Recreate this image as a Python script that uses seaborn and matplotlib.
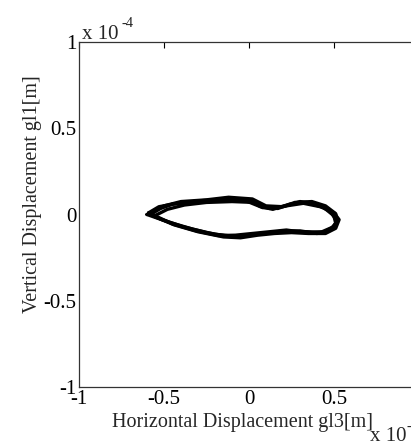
import matplotlib
matplotlib.use("Agg")
import matplotlib.pyplot as plt
import seaborn as sns
import pandas as pd

# Orbit data (units of 1e-4 m), several overlapping cycles
cyc1_x = [-0.58, -0.52, -0.45, -0.31, -0.15, 0.0, 0.065, 0.14, 0.24, 0.34, 0.44, 0.49, 0.52,
          0.49, 0.44, 0.34, 0.24, 0.14, 0.05, -0.05, -0.11, -0.25, -0.39, -0.51, -0.58]
cyc1_y = [0.0, 0.035, 0.06, 0.075, 0.087, 0.087, 0.047, 0.03, 0.06, 0.07, 0.04, 0.0, -0.04,
          -0.075, -0.105, -0.10, -0.10, -0.105, -0.115, -0.128, -0.128, -0.105, -0.07, -0.03, 0.0]

cyc2_x = [-0.60, -0.50, -0.40, -0.25, -0.12, 0.02, 0.10, 0.20, 0.30, 0.40, 0.47, 0.50, 0.51,
          0.48, 0.40, 0.30, 0.20, 0.10, 0.0, -0.10, -0.20, -0.33, -0.47, -0.60]
cyc2_y = [0.0, 0.05, 0.075, 0.085, 0.10, 0.09, 0.05, 0.045, 0.075, 0.06, 0.03, -0.01, -0.05,
          -0.09, -0.11, -0.095, -0.095, -0.11, -0.12, -0.125, -0.115, -0.085, -0.045, 0.0]

cyc3_x = [-0.56, -0.48, -0.38, -0.25, -0.10, 0.03, 0.12, 0.22, 0.32, 0.42, 0.50, 0.53,
          0.51, 0.45, 0.35, 0.25, 0.15, 0.05, -0.05, -0.15, -0.30, -0.44, -0.56]
cyc3_y = [-0.01, 0.03, 0.055, 0.07, 0.075, 0.07, 0.035, 0.05, 0.065, 0.045, 0.01, -0.03,
          -0.08, -0.11, -0.11, -0.105, -0.11, -0.12, -0.135, -0.13, -0.10, -0.06, -0.01]

cyc4_x = [-0.59, -0.53, -0.42, -0.28, -0.14, -0.02, 0.08, 0.17, 0.27, 0.37, 0.45, 0.51, 0.52,
          0.50, 0.43, 0.33, 0.22, 0.12, 0.02, -0.08, -0.18, -0.31, -0.45, -0.59]
cyc4_y = [0.01, 0.045, 0.065, 0.08, 0.09, 0.08, 0.04, 0.035, 0.07, 0.075, 0.05, 0.005, -0.035,
          -0.07, -0.1, -0.105, -0.09, -0.1, -0.11, -0.12, -0.122, -0.095, -0.055, 0.01]

tick_vals = [-1, -0.5, 0, 0.5, 1]
ytick_labels = ["-1", "-0.5", "0", "0.5", "1"]
xtick_labels = ["-1", "-0.5", "0", "0.5", ""]

sns.set_style("white")
plt.rcParams["font.family"] = ["Liberation Serif", "DejaVu Serif"]
plt.rcParams["axes.unicode_minus"] = False

fig = plt.figure(figsize=(4.11, 4.46), dpi=100)
ax = fig.add_axes([79 / 411, (446 - 387) / 446, 340 / 411, 345 / 446])

for cx, cy in [(cyc1_x, cyc1_y), (cyc2_x, cyc2_y), (cyc3_x, cyc3_y), (cyc4_x, cyc4_y)]:
    df = pd.DataFrame({"x": cx, "y": cy})
    sns.lineplot(data=df, x="x", y="y", sort=False, estimator=None, ax=ax,
                 color="black", linewidth=2.4)

ax.set_xlim(-1, 1)
ax.set_ylim(-1, 1)
ax.set_xticks(tick_vals)
ax.set_xticklabels(xtick_labels)
ax.set_yticks(tick_vals)
ax.set_yticklabels(ytick_labels)
ax.tick_params(direction="in", length=4, width=0.8, labelsize=15, pad=2,
               top=True, right=True, colors="black")
for s in ax.spines.values():
    s.set_visible(True)
    s.set_color("#333333")
    s.set_linewidth(0.9)

ax.set_xlabel("Horizontal Displacement gl3[m]", fontsize=14.5, labelpad=0)
ax.set_ylabel("Vertical Displacement gl1[m]", fontsize=14.5)
ax.yaxis.set_label_coords(-0.11, 0.56)
ax.xaxis.set_label_coords(0.48, -0.075)

fig.text(82 / 411, 1 - 39 / 446, "x 10", fontsize=15, ha="left", va="baseline")
fig.text(121 / 411, 1 - 27 / 446, "-4", fontsize=10.5, ha="left", va="baseline")
fig.text(370 / 411, 1 - 441 / 446, "x 10", fontsize=15, ha="left", va="baseline")
fig.text(406 / 411, 1 - 430 / 446, "-4", fontsize=10.5, ha="left", va="baseline")

fig.savefig("out.png", dpi=100)
